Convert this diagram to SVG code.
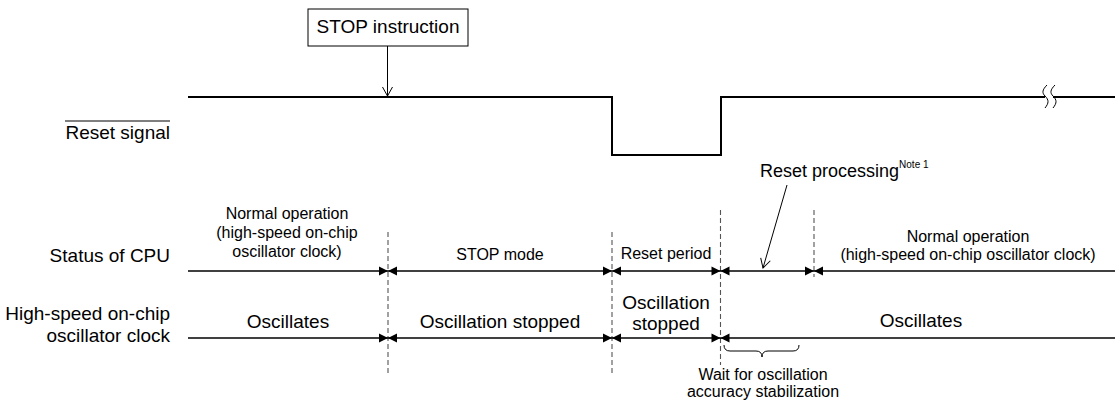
<svg xmlns="http://www.w3.org/2000/svg" width="1115" height="401" viewBox="0 0 1115 401">
<defs>
<style>
text{font-family:"Liberation Sans",Arial,sans-serif;fill:#000}
.l{font-size:19px;text-anchor:end}
.m{font-size:19px;text-anchor:middle}
.s{font-size:16px;text-anchor:middle}
.sig{fill:none;stroke:#000;stroke-width:2}
.ax{fill:none;stroke:#000;stroke-width:1.4}
.dash{fill:none;stroke:#555;stroke-width:1.1;stroke-dasharray:5,3}
.thin{fill:none;stroke:#000;stroke-width:1}
</style>
<path id="ah" d="M0,0 L-9,-4.5 L-9,4.5 Z" fill="#000"/>
<marker id="open" markerWidth="12" markerHeight="12" refX="10" refY="6" orient="auto" markerUnits="userSpaceOnUse">
<path d="M1,1 L10,6 L1,11" fill="none" stroke="#000" stroke-width="1"/>
</marker>
</defs>
<rect width="1115" height="401" fill="#fff"/>

<g id="labels">
<text class="l" x="170" y="139">Reset signal</text>
<line x1="65" y1="121" x2="170" y2="121" stroke="#000" stroke-width="1.2"/>
<text class="l" x="170" y="262">Status of CPU</text>
<text class="l" x="170" y="320">High-speed on-chip</text>
<text class="l" x="170" y="342">oscillator clock</text>
</g>

<g id="stop-instruction">
<rect x="308" y="9" width="160" height="37" fill="#fff" stroke="#000" stroke-width="1"/>
<text class="m" x="388" y="33">STOP instruction</text>
</g>

<g id="reset-signal">
<path class="sig" d="M188,97 H612 V155 H721 V97 H1045 M1053,97 H1115"/>
<path class="thin" d="M1047,85 C1042,90 1042,93 1045,96 C1049,100 1049,103 1045,108 M1055,85 C1050,90 1050,93 1053,96 C1057,100 1057,103 1053,108"/>
</g>

<g id="connectors">
<line class="thin" x1="387.5" y1="46" x2="387.5" y2="96" marker-end="url(#open)"/>
<line class="thin" x1="787" y1="185" x2="763" y2="268" marker-end="url(#open)"/>
<line class="dash" x1="388" y1="232" x2="388" y2="373"/>
<line class="dash" x1="612" y1="232" x2="612" y2="373"/>
<line class="dash" x1="720.5" y1="210" x2="720.5" y2="365"/>
<line class="dash" x1="814" y1="210" x2="814" y2="277"/>
<line class="ax" x1="188" y1="271" x2="1115" y2="271"/>
<line class="ax" x1="188" y1="338" x2="1115" y2="338"/>
<use href="#ah" transform="translate(388,271)"/>
<use href="#ah" transform="translate(388,271) scale(-1,1)"/>
<use href="#ah" transform="translate(612,271)"/>
<use href="#ah" transform="translate(612,271) scale(-1,1)"/>
<use href="#ah" transform="translate(720.5,271)"/>
<use href="#ah" transform="translate(720.5,271) scale(-1,1)"/>
<use href="#ah" transform="translate(814,271)"/>
<use href="#ah" transform="translate(814,271) scale(-1,1)"/>
<use href="#ah" transform="translate(388,338)"/>
<use href="#ah" transform="translate(388,338) scale(-1,1)"/>
<use href="#ah" transform="translate(612,338)"/>
<use href="#ah" transform="translate(612,338) scale(-1,1)"/>
<use href="#ah" transform="translate(720.5,338)"/>
<use href="#ah" transform="translate(720.5,338) scale(-1,1)"/>
<path class="thin" d="M724,345 Q724,351 730,351 L756,351 Q762,351 762,357 Q762,351 768,351 L793,351 Q799,351 799,345"/>
</g>

<g id="cpu-status">
<text class="s" x="287" y="219">Normal operation</text>
<text class="s" x="287" y="238">(high-speed on-chip</text>
<text class="s" x="287" y="257">oscillator clock)</text>
<text class="s" x="500" y="260">STOP mode</text>
<text class="s" x="666" y="259">Reset period</text>
<text class="s" x="968" y="242">Normal operation</text>
<text class="s" x="968" y="260">(high-speed on-chip oscillator clock)</text>
<text x="760" y="177" font-size="18">Reset processing<tspan font-size="10" dy="-9">Note 1</tspan></text>
</g>

<g id="clock-status">
<text class="m" x="288" y="328">Oscillates</text>
<text class="m" x="500" y="328">Oscillation stopped</text>
<text class="m" x="666" y="309">Oscillation</text>
<text class="m" x="666" y="330">stopped</text>
<text class="m" x="921" y="327">Oscillates</text>
<text class="s" x="763" y="380">Wait for oscillation</text>
<text class="s" x="763" y="397">accuracy stabilization</text>
</g>
</svg>
